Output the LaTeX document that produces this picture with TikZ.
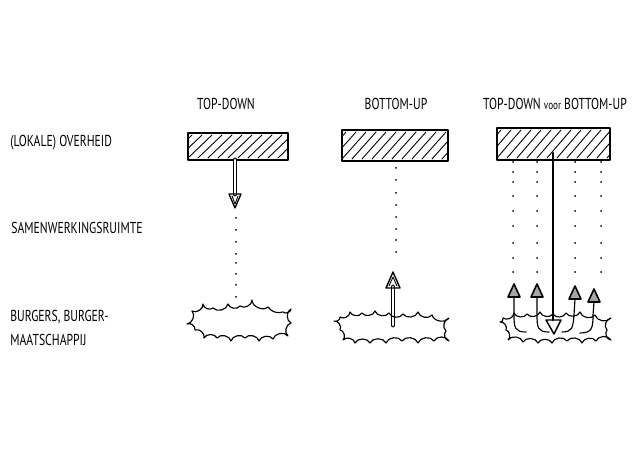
\documentclass[tikz,border=0pt]{standalone}
\usepackage{fontspec}
\setmainfont{PT Sans}
\usetikzlibrary{arrows.meta}
\tikzset{
  x=0.02cm, y=-0.02cm,
  ink/.style={draw=black, line width=0.65pt, line cap=round, line join=round},
  hatchbox/.style={ink, line width=0.75pt},
  lbl/.style={inner sep=0pt, font=\fontsize{9}{10}\selectfont},
  ttl/.style={inner sep=0pt, font=\fontsize{9}{10}\selectfont},
  dotmark/.style={fill=black, draw=none},
  dblstem/.style={ink, double=white, double distance=1.6pt, line width=0.55pt},
  headink/.style={ink, line width=0.9pt, fill=black!35},
  bump/.style={bend right=65},
}
\newcommand{\hw}[1]{\scalebox{0.74}[1]{#1}}
\newcommand{\hatchrect}[4]{%
  \begin{scope}
    \clip (#1,#2) rectangle (#3,#4);
    \foreach \k in {-40,-30,...,130} {
      \draw[ink, line width=0.5pt] (#1+\k,#4-2) -- (#1+\k+24,#2+2);
    }
  \end{scope}
  \draw[hatchbox] (#1,#2) rectangle (#3,#4);
}
\begin{document}
\begin{tikzpicture}
\useasboundingbox (0,0) rectangle (639,455);

% titles
\node[ttl] (t1) at (226,104) {\hw{TOP-DOWN}};
\node[ttl] (t2) at (396,104) {\hw{BOTTOM-UP}};
\node[ttl] (t3) at (555,104) {\hw{TOP-DOWN {\fontsize{7}{8}\selectfont voor} BOTTOM-UP}};

% row labels
\node[lbl, anchor=west] (r1) at (10,143) {\hw{(LOKALE) OVERHEID}};
\node[lbl, anchor=west] (r2) at (11,228) {\hw{SAMENWERKINGSRUIMTE}};
\node[lbl, anchor=west, align=left] (r3) at (10,328) {\hw{BURGERS, BURGER-}\\[4pt]\hw{MAATSCHAPPIJ}};

% government bars
\hatchrect{188}{133}{288}{160}
\hatchrect{342}{130}{448}{161}
\hatchrect{497}{128}{610}{160}

% ---------- column 1: top-down
\draw[dblstem] (235,160) -- (235,194);
\draw[ink, line width=0.75pt] (229,194) -- (235,208) -- (241,194) -- cycle;
\draw[ink, line width=0.5pt] (232,196) -- (235,204) -- (238,196);
\foreach \yy in {218,230,242,254,263,274,285,297}
  \fill[dotmark] (236,\yy) circle (1);
% blob 1
\draw[ink] (192,311) to[bump] (203,304) to[bump] (213,308)
  to[bump] (228,304) to[bump] (240,306) to[bump] (252,300)
  to[bump] (268,307) to[bend right=35] (283,312) to[bump] (291,309)
  to[bump] (291,323) to[bump] (288,336)
  to[bump] (273,339) to[bump] (259,341) to[bump] (245,338)
  to[bump] (231,341) to[bump] (217,338) to[bump] (204,338)
  to[bump] (195,330) to[bump] (187,324) to[bump] (192,311);

% ---------- column 2: bottom-up
\foreach \yy in {168,180,193,205,217,229,240,252}
  \fill[dotmark] (396,\yy) circle (1);
\draw[dblstem] (393,325) -- (393,287);
\draw[ink, line width=0.8pt] (386,288) -- (393,272) -- (400,288) -- cycle;
\draw[ink, line width=0.5pt] (389,286) -- (393,277) -- (397,286);
% blob 2
\draw[ink] (340,317) to[bump] (350,312) to[bump] (362,313)
  to[bump] (375,311) to[bump] (389,313) to[bump] (403,314)
  to[bump] (418,312) to[bump] (432,315) to[bump] (449,318)
  to[bump] (446,331) to[bump] (449,341)
  to[bump] (434,341) to[bump] (418,343) to[bump] (402,341)
  to[bump] (386,343) to[bump] (370,343) to[bump] (355,343)
  to[bump] (343,340) to[bump] (340,330) to[bump] (334,321)
  to[bump] (340,317);

% ---------- column 3: top-down voor bottom-up
\foreach \xx in {513,537,575,601} {
  \foreach \yy in {162,172,182,196,211,226,243,258,272}
    \fill[dotmark] (\xx,\yy) circle (1);
}
% long arrow down
\draw[ink, line width=1.4pt] (553,153) -- (553,320);
\draw[ink, line width=0.8pt] (546,320) -- (554,334) -- (561,320) -- cycle;
% four arrows up with hooked tails
\draw[ink] (526,332) .. controls (515,332) and (514,328) .. (514,315) -- (514,297);
\draw[headink] (508,297) -- (514,284) -- (520,297) -- cycle;
\draw[ink] (549,332) .. controls (538,332) and (537,328) .. (537,315) -- (537,297);
\draw[headink] (531,297) -- (537,284) -- (543,297) -- cycle;
\draw[ink] (562,332) .. controls (572,332) and (573,328) .. (574,315) -- (575,299);
\draw[headink] (569,299) -- (575,286) -- (581,299) -- cycle;
\draw[ink] (580,333) .. controls (592,333) and (593,328) .. (593,315) -- (594,302);
\draw[headink] (588,302) -- (594,289) -- (600,302) -- cycle;
% blob 3
\draw[ink] (503,318) to[bump] (514,313) to[bump] (527,314)
  to[bump] (540,312) to[bump] (553,314) to[bump] (566,313)
  to[bump] (580,312) to[bump] (595,315) to[bump] (611,318)
  to[bump] (607,330) to[bump] (611,340)
  to[bump] (596,341) to[bump] (582,343) to[bump] (567,341)
  to[bump] (552,343) to[bump] (538,343) to[bump] (523,342)
  to[bump] (508,340) to[bump] (506,330) to[bump] (500,322)
  to[bump] (503,318);
\end{tikzpicture}
\end{document}
